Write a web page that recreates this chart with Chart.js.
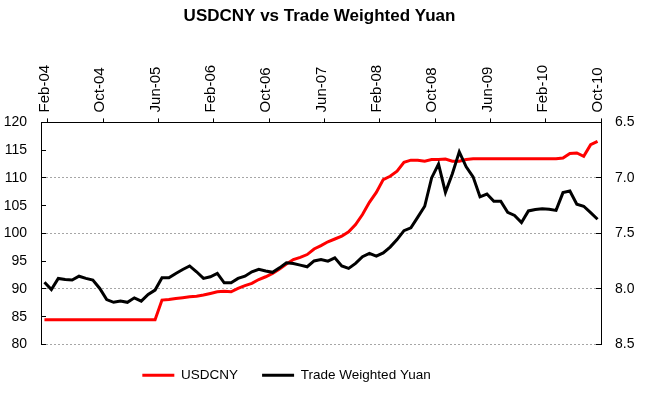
<!DOCTYPE html>
<html lang="en">
<head>
    <meta charset="UTF-8">
    <title>USDCNY vs Trade Weighted Yuan</title>
    <script src="https://cdn.jsdelivr.net/npm/chart.js"></script>
    <style>
        body { margin: 0; background: #fff; }
    </style>
</head>
<body>

    <canvas id="yuanChart" width="661" height="398"></canvas>

    <script>
        // Month labels, Jan-04 .. Oct-10 (points sit mid-month, ticks at month start)
        const monthNames = ["Jan", "Feb", "Mar", "Apr", "May", "Jun", "Jul", "Aug", "Sep", "Oct", "Nov", "Dec"];
        const months = [];
        for (let y = 4; y <= 10; y++) {
            monthNames.forEach(m => months.push(m + "-" + String(y).padStart(2, "0")));
        }
        months.length = 82;

        const tickLabels = ["Feb-04", "Oct-04", "Jun-05", "Feb-06", "Oct-06", "Jun-07", "Feb-08", "Oct-08", "Jun-09", "Feb-10", "Oct-10"];

        // USDCNY (right axis, inverted)
        const usdcny = [
            8.277, 8.277, 8.277, 8.277, 8.277, 8.277, 8.277, 8.277, 8.277, 8.277,
            8.277, 8.277, 8.277, 8.277, 8.277, 8.277, 8.277, 8.10, 8.095, 8.085,
            8.078, 8.07, 8.065, 8.055, 8.04, 8.025, 8.02, 8.025, 7.995, 7.97,
            7.95, 7.915, 7.89, 7.86, 7.82, 7.775, 7.735, 7.715, 7.69, 7.64,
            7.61, 7.575, 7.55, 7.525, 7.485, 7.42, 7.33, 7.22, 7.13, 7.015,
            6.985, 6.94, 6.86, 6.84, 6.84, 6.85, 6.835, 6.835, 6.83, 6.85,
            6.85, 6.835, 6.828, 6.828, 6.828, 6.828, 6.828, 6.828, 6.828, 6.828,
            6.828, 6.828, 6.828, 6.828, 6.828, 6.82, 6.78, 6.775, 6.805, 6.70,
            6.67
        ];

        // Trade weighted yuan index (left axis)
        const tradeWeighted = [
            91.2, 89.9, 91.9, 91.7, 91.6, 92.3, 91.9, 91.6, 90.1, 88.1,
            87.6, 87.85, 87.6, 88.4, 87.8, 89.0, 89.8, 92.0, 92.0, 92.8,
            93.5, 94.15, 93.1, 91.9, 92.2, 92.8, 91.1, 91.1, 91.9, 92.3,
            93.1, 93.55, 93.25, 93.0, 93.8, 94.7, 94.6, 94.3, 94.0, 95.05,
            95.3, 95.0, 95.6, 94.15, 93.7, 94.6, 95.8, 96.4, 95.9, 96.5,
            97.55, 98.9, 100.5, 101.0, 102.95, 104.9, 110.0, 112.5, 107.4, 110.75,
            114.7, 112.0, 110.2, 106.6, 107.1, 105.8, 105.8, 103.8, 103.25, 101.95,
            104.05, 104.3, 104.45, 104.35, 104.15, 107.35, 107.65, 105.25, 104.9, 103.75,
            102.55
        ];

        const font = "'Liberation Sans', Arial, sans-serif";
        Chart.defaults.font.family = font;
        Chart.defaults.font.size = 14;
        Chart.defaults.color = "#000";

        // Excel places the legend a little left of centre
        const shiftLegend = {
            id: "shiftLegend",
            afterLayout(chart) {
                chart.legend.left -= 33;
                chart.legend.right -= 33;
            }
        };

        const ctx = document.getElementById("yuanChart").getContext("2d");
        new Chart(ctx, {
            type: "line",
            data: {
                datasets: [{
                    label: "Trade Weighted Yuan",
                    data: tradeWeighted.map((v, i) => ({ x: i + 0.5, y: v })),
                    borderColor: "#000",
                    backgroundColor: "#000",
                    borderWidth: 3,
                    pointRadius: 0,
                    pointStyle: "line",
                    yAxisID: "y"
                }, {
                    label: "USDCNY",
                    data: usdcny.map((v, i) => ({ x: i + 0.5, y: v })),
                    borderColor: "#ff0000",
                    backgroundColor: "#ff0000",
                    borderWidth: 3,
                    pointRadius: 0,
                    pointStyle: "line",
                    yAxisID: "y1"
                }]
            },
            options: {
                responsive: false,
                animation: false,
                layout: { padding: { left: 3, right: 25, bottom: 6 } },
                plugins: {
                    title: {
                        display: true,
                        text: "USDCNY vs Trade Weighted Yuan",
                        font: { size: 17, weight: "bold" },
                        color: "#000",
                        padding: { top: 6, bottom: 33 }
                    },
                    legend: {
                        position: "bottom",
                        labels: {
                            usePointStyle: true,
                            pointStyleWidth: 32,
                            padding: 24,
                            color: "#000",
                            font: { size: 13.5 },
                            sort: (a, b) => b.datasetIndex - a.datasetIndex
                        }
                    },
                    tooltip: { enabled: false }
                },
                scales: {
                    x: {
                        type: "linear",
                        position: "top",
                        min: 0,
                        max: months.length - 1,
                        afterBuildTicks: axis => {
                            axis.ticks = tickLabels.map(l => ({ value: months.indexOf(l) }));
                        },
                        afterFit: axis => { axis.height = 63; },
                        ticks: {
                            autoSkip: false,
                            minRotation: 90,
                            maxRotation: 90,
                            padding: 6,
                            labelOffset: 15,
                            font: { size: 15 },
                            callback: v => months[v]
                        },
                        grid: { drawOnChartArea: false, tickLength: 4, tickColor: "#000" },
                        border: { color: "#000" }
                    },
                    y: {
                        position: "left",
                        min: 80,
                        max: 120,
                        afterFit: axis => { axis.width = 38; },
                        ticks: { stepSize: 5, padding: 19 },
                        grid: {
                            color: c => (c.tick && c.tick.value % 10 === 0 && c.tick.value !== 120) ? "#a6a6a6" : "transparent",
                            tickColor: "#000",
                            tickLength: -5
                        },
                        border: { color: "#000", dash: [2, 2] }
                    },
                    y1: {
                        position: "right",
                        reverse: true,
                        min: 6.5,
                        max: 8.5,
                        afterFit: axis => { axis.width = 35; },
                        ticks: { stepSize: 0.5, padding: 19, callback: v => v.toFixed(1) },
                        grid: { drawOnChartArea: false, tickColor: "#000", tickLength: -5 },
                        border: { color: "#000" }
                    }
                }
            },
            plugins: [shiftLegend]
        });
    </script>

</body>
</html>
